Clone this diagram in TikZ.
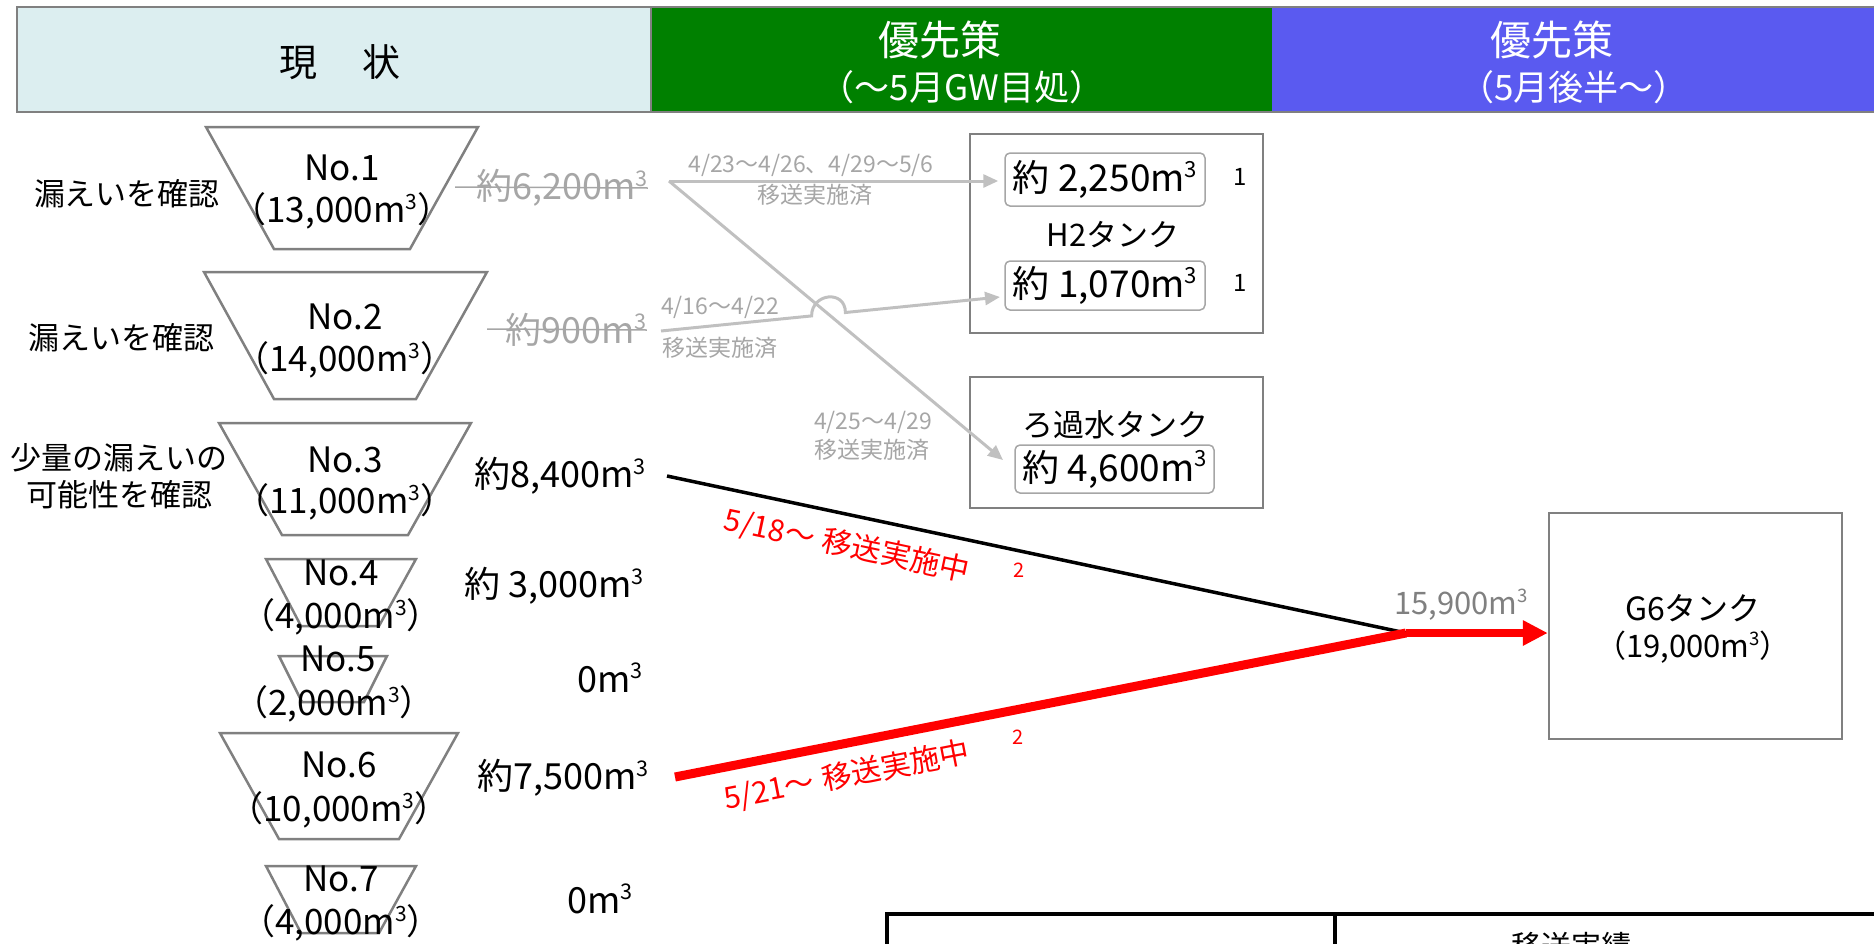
\documentclass[tikz,border=0pt]{standalone}
\usepackage{fontspec}
\setmainfont{Noto Sans CJK JP}
\usetikzlibrary{arrows.meta}
\newcommand\myfs[1]{\fontsize{#1pt}{#1pt}\selectfont}
\newcommand\mcube{m\raisebox{0.38em}{\scalebox{0.6}{3}}}
\definecolor{hdrA}{RGB}{220,238,240}
\definecolor{hdrB}{RGB}{0,128,0}
\definecolor{hdrC}{RGB}{90,90,240}
\definecolor{tankc}{RGB}{128,128,128}
\definecolor{flowc}{RGB}{192,192,192}
\definecolor{donec}{RGB}{166,166,166}
\definecolor{redc}{RGB}{255,0,0}
\begin{document}
\begin{tikzpicture}[x=1pt,y=-1pt,
  tank/.style={draw=tankc,line width=2.5pt,line join=miter},
  tanktxt/.style={inner sep=0pt,font=\myfs{35}},
  sidetxt/.style={inner sep=0pt,font=\myfs{31}},
  voltxt/.style={inner sep=0pt,font=\myfs{36}},
  donetxt/.style={inner sep=0pt,font=\myfs{36},text=donec},
  smalltxt/.style={inner sep=0pt,font=\myfs{23},text=donec},
  redtxt/.style={inner sep=0pt,font=\myfs{30},text=redc},
  notetxt/.style={inner sep=0pt,font=\myfs{24}},
  outerbox/.style={draw=tankc,line width=2.5pt,inner sep=0pt},
  innerbox/.style={draw=tankc!70,line width=1.5pt,rounded corners=5pt,inner sep=0pt,font=\myfs{37}},
  flow/.style={draw=flowc,line width=3pt,-{Triangle[length=15pt,width=13pt]}},
  hdrtxt/.style={inner sep=0pt,text=white}]
\useasboundingbox (0,0) rectangle (1874,943);
\clip (0,0) rectangle (1874,943);
% header
\fill[hdrA] (17,7) rectangle (651,112);
\fill[hdrB] (651,7) rectangle (1272,112);
\fill[hdrC] (1272,7) rectangle (1880,112);
\draw[tankc,line width=2.5pt] (1880,7) -- (17,7) -- (17,112) -- (1880,112);
\draw[tankc,line width=1.5pt] (651,7) -- (651,112);
\node[inner sep=0pt,font=\myfs{38}] (hA) at (340,62) {現\hspace{45pt}状};
\node[hdrtxt,font=\myfs{41}] (hB1) at (940,40) {優先策};
\node[hdrtxt,font=\myfs{35}] (hB2) at (962,87) {（～5月GW目処）};
\node[hdrtxt,font=\myfs{41}] (hC1) at (1552,40) {優先策};
\node[hdrtxt,font=\myfs{35}] (hC2) at (1574,87) {（5月後半～）};
% tanks
\draw[tank] (206,127) -- (478,127) -- (410,249) -- (274,249) -- cycle;
\draw[tank] (204,272) -- (487,272) -- (416,399) -- (274,399) -- cycle;
\draw[tank] (219,423) -- (471,423) -- (408,535) -- (282,535) -- cycle;
\draw[tank] (266,559) -- (416,559) -- (379,626) -- (301,626) -- cycle;
\draw[tank] (279,656) -- (387,656) -- (364,702) -- (302,702) -- cycle;
\draw[tank] (220,733) -- (458,733) -- (399,839) -- (279,839) -- cycle;
\draw[tank] (266,866) -- (416,866) -- (379,933) -- (301,933) -- cycle;
\node[tanktxt] (n1) at (342,168) {No.1};
\node[tanktxt] (c1) at (342,211) {（13,000\mcube）};
\node[tanktxt] (n2) at (345,317) {No.2};
\node[tanktxt] (c2) at (345,360) {（14,000\mcube）};
\node[tanktxt] (n3) at (345,460) {No.3};
\node[tanktxt] (c3) at (345,502) {（11,000\mcube）};
\node[tanktxt] (n4) at (341,573) {No.4};
\node[tanktxt] (c4) at (341,617) {（4,000\mcube）};
\node[tanktxt] (n5) at (338,659) {No.5};
\node[tanktxt] (c5) at (334,704) {（2,000\mcube）};
\node[tanktxt] (n6) at (339,765) {No.6};
\node[tanktxt] (c6) at (339,810) {（10,000\mcube）};
\node[tanktxt] (n7) at (341,879) {No.7};
\node[tanktxt] (c7) at (341,923) {（4,000\mcube）};
% side labels
\node[sidetxt] (l1) at (127,194) {漏えいを確認};
\node[sidetxt] (l2) at (121,338) {漏えいを確認};
\node[sidetxt] (l3a) at (119,458) {少量の漏えいの};
\node[sidetxt] (l3b) at (119,495) {可能性を確認};
% volumes
\node[donetxt] (v1) at (562,188) {約6,200\mcube};
\draw[donec,line width=1.5pt] (455,187) -- (v1.east);
\node[donetxt] (v2) at (576,330) {約900\mcube};
\draw[donec,line width=1.5pt] (487,329) -- (v2.east);
\node[voltxt] (v3) at (560,476) {約8,400\mcube};
\node[voltxt] (v4) at (554,586) {約 3,000\mcube};
\node[voltxt] (v5) at (610,678) {0\mcube};
\node[voltxt] (v6) at (563,778) {約7,500\mcube};
\node[voltxt] (v7) at (600,899) {0\mcube};
% destination boxes
\node[outerbox,minimum width=293pt,minimum height=199pt] (h2) at (1116.5,233.5) {};
\node[innerbox,minimum width=200pt,minimum height=53pt] (b1) at (1105,179.5) {約 2,250\mcube};
\node[innerbox,minimum width=200pt,minimum height=49pt] (b2) at (1105,285.5) {約 1,070\mcube};
\node[sidetxt] (h2t) at (1113,235) {H2タンク};
\node[notetxt] (r1) at (1240,177) {1};
\node[notetxt] (r2) at (1240,283) {1};
\node[outerbox,minimum width=293pt,minimum height=131pt] (rk) at (1116.5,442.5) {};
\node[sidetxt] (rkt) at (1115,425) {ろ過水タンク};
\node[innerbox,minimum width=199pt,minimum height=48pt] (b3) at (1114.5,469) {約 4,600\mcube};
\node[outerbox,minimum width=293pt,minimum height=226pt] (g6) at (1695.5,626) {};
\node[inner sep=0pt,font=\myfs{32}] (g6a) at (1693,608) {G6タンク};
\node[inner sep=0pt,font=\myfs{31}] (g6b) at (1693,647) {（19,000\mcube）};
% flows done
\coordinate (s1) at (669,181);
\coordinate (s2) at (661,331);
\coordinate (t2) at (1003,460);
\coordinate (t3) at (1000,297);
\coordinate (ja) at (811.6,315.9);
\coordinate (jb) at (845.4,312.5);
\draw[flow,shorten >=6pt] (s1) -- (b1.west |- s1);
\draw[flow] (s1) -- (t2);
\draw[flow] (s2) -- (ja) .. controls +(0,-23) and +(0,-23) .. (jb) -- (t3);
\node[smalltxt] (f1a) at (811,165) {4/23～4/26、4/29～5/6};
\node[smalltxt] (f1b) at (815,195) {移送実施済};
\node[smalltxt] (f2a) at (720,307) {4/16～4/22};
\node[smalltxt] (f2b) at (720,348) {移送実施済};
\node[smalltxt] (f3a) at (873,422) {4/25～4/29};
\node[smalltxt] (f3b) at (872,450) {移送実施済};
% flows in progress
\coordinate (s3) at (667,476);
\coordinate (s6) at (675,777);
\coordinate (jn) at (1406,633);
\draw[black,line width=3.5pt] (s3) -- (jn);
\draw[redc,line width=9pt] (s6) -- (jn);
\draw[redc,line width=8pt,-{Triangle[length=25pt,width=24pt]}] (jn) -- (g6.west |- jn);
\node[redtxt,rotate=-12] (e1) at (847,546) {5/18～\hspace{8pt}移送実施中};
\node[redtxt,font=\myfs{20}] (e1n) at (1019,570) {2};
\node[redtxt,rotate=11] (e2) at (847,776) {5/21～\hspace{8pt}移送実施中};
\node[redtxt,font=\myfs{20}] (e2n) at (1018,737) {2};
\node[inner sep=0pt,font=\myfs{31},text=tankc] (tot) at (1461,605) {15,900\mcube};
% table
\draw[black,line width=4.5pt] (885,914) -- (1880,914);
\draw[black,line width=3.5pt] (887,912) -- (887,960);
\draw[black,line width=3.5pt] (1335,912) -- (1335,960);
\node[inner sep=0pt,font=\myfs{30}] (tb) at (1571,946) {移送実績};
\end{tikzpicture}
\end{document}
